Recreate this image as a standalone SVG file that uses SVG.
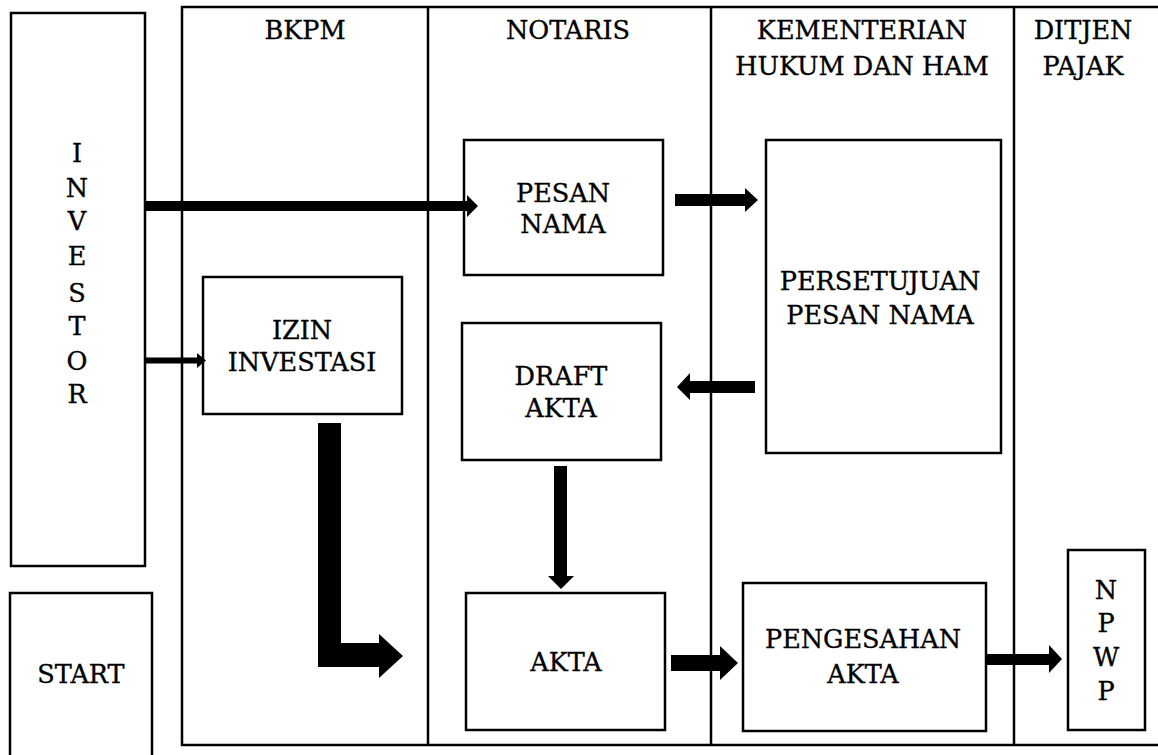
<svg xmlns="http://www.w3.org/2000/svg" width="1158" height="755" viewBox="0 0 1158 755">
<style>
.box{fill:#fff;stroke:#000;stroke-width:2.5}
.lane{fill:none;stroke:#000;stroke-width:2.5}
.t{font-family:"DejaVu Serif","Liberation Serif",serif;font-size:25.5px;fill:#000;stroke:#000;stroke-width:0.35;text-anchor:middle}
.arr{fill:#000;stroke:none}
</style>
<rect width="1158" height="755" fill="#fff"/>
<g id="lanes">
<path class="lane" d="M1158 7 H182 V745 H1158"/>
<line class="lane" x1="428" y1="7" x2="428" y2="745"/>
<line class="lane" x1="711" y1="7" x2="711" y2="745"/>
<line class="lane" x1="1014" y1="7" x2="1014" y2="745"/>
<text class="t" x="305" y="39">BKPM</text>
<text class="t" x="568" y="39">NOTARIS</text>
<text class="t" x="862" y="39">KEMENTERIAN</text>
<text class="t" x="862" y="75">HUKUM DAN HAM</text>
<text class="t" x="1083" y="39">DITJEN</text>
<text class="t" x="1083" y="75">PAJAK</text>
</g>
<g id="investor">
<rect class="box" x="11" y="13" width="134" height="553"/>
<text class="t" x="77" y="162">I</text>
<text class="t" x="77" y="197">N</text>
<text class="t" x="77" y="230">V</text>
<text class="t" x="77" y="265">E</text>
<text class="t" x="77" y="302">S</text>
<text class="t" x="77" y="335">T</text>
<text class="t" x="77" y="370">O</text>
<text class="t" x="77" y="403">R</text>
</g>
<g id="start">
<rect class="box" x="10" y="593" width="142" height="180"/>
<text class="t" x="81" y="683">START</text>
</g>
<g id="izin">
<rect class="box" x="203" y="277" width="199" height="137"/>
<text class="t" x="302" y="339">IZIN</text>
<text class="t" x="302" y="371">INVESTASI</text>
</g>
<g id="pesan">
<rect class="box" x="464" y="140" width="199" height="135"/>
<text class="t" x="563" y="202">PESAN</text>
<text class="t" x="563" y="233">NAMA</text>
</g>
<g id="persetujuan">
<rect class="box" x="766" y="140" width="235" height="313"/>
<text class="t" x="880" y="290">PERSETUJUAN</text>
<text class="t" x="880" y="324">PESAN NAMA</text>
</g>
<g id="draft">
<rect class="box" x="462" y="323" width="199" height="137"/>
<text class="t" x="561" y="385">DRAFT</text>
<text class="t" x="561" y="417">AKTA</text>
</g>
<g id="akta">
<rect class="box" x="466" y="593" width="199" height="137"/>
<text class="t" x="566" y="671">AKTA</text>
</g>
<g id="pengesahan">
<rect class="box" x="743" y="583" width="243" height="148"/>
<text class="t" x="863" y="648">PENGESAHAN</text>
<text class="t" x="863" y="683">AKTA</text>
</g>
<g id="npwp">
<rect class="box" x="1068" y="550" width="77" height="180"/>
<text class="t" x="1106" y="599">N</text>
<text class="t" x="1106" y="632">P</text>
<text class="t" x="1106" y="666">W</text>
<text class="t" x="1106" y="700">P</text>
</g>
<g id="connectors">
<polygon class="arr" points="145,201 467,201 467,195 478,206 467,217 467,211 145,211"/>
<polygon class="arr" points="145,357.5 197,357.5 197,353 206,360.5 197,368 197,363.5 145,363.5"/>
<polygon class="arr" points="675,194 745,194 745,188 758,200 745,212 745,206 675,206"/>
<polygon class="arr" points="755,381 690,381 690,373 677,387 690,400 690,393 755,393"/>
<polygon class="arr" points="554,466 567,466 567,576 574,576 561,589 548,576 554,576"/>
<polygon class="arr" points="671,655 720,655 720,646 738,663 720,680 720,671 671,671"/>
<polygon class="arr" points="986,654 1049,654 1049,645 1062,659 1049,673 1049,665 986,665"/>
<path class="arr" stroke="#000" stroke-width="2" stroke-linejoin="round" d="M318 423 H341 V643 H379 V634 L403 656 L379 678 V667 H318 Z"/>
</g>
</svg>
